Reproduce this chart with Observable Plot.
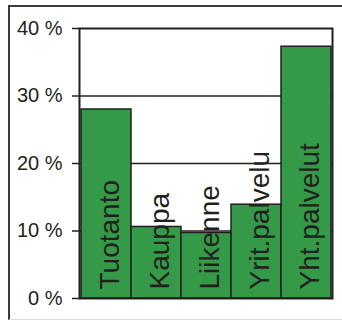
<!DOCTYPE html>
<html>
<head>
<meta charset="utf-8">
<script src="https://cdn.jsdelivr.net/npm/d3@7"></script>
<script src="https://cdn.jsdelivr.net/npm/@observablehq/plot@0.6"></script>
<style>
  html, body { margin: 0; padding: 0; background: white; }
  #wrap { position: relative; width: 342px; height: 320px; overflow: hidden; }
  #frame { position: absolute; left: 8px; top: 5px; width: 340px; height: 312px;
           border-top: 2px solid #3a3a3a; border-left: 2px solid #3a3a3a; border-bottom: 1px solid #dddddd;
           pointer-events: none; }
</style>
</head>
<body>
<div id="wrap"><div id="frame"></div></div>
<script>
const categories = ["Tuotanto", "Kauppa", "Liikenne", "Yrit.palvelu", "Yht.palvelut"];
const values = [28, 10.6, 9.7, 13.9, 37.3];
const yTicks = [0, 10, 20, 30, 40];
const gridTicks = [10, 20, 30];

const data = categories.map((c, i) => ({cat: c, value: values[i]}));
const ink = "#231f20";
const green = "#359a47";

const chart = Plot.plot({
  width: 342,
  height: 320,
  marginLeft: 79,
  marginRight: 10,
  marginTop: 28,
  marginBottom: 22,
  style: {background: "transparent", fontFamily: "'Liberation Sans', Arial, sans-serif", color: ink},
  x: {domain: categories, padding: 0, axis: null},
  y: {domain: [0, 40], ticks: yTicks, tickFormat: d => d + " %", label: null},
  marks: [
    Plot.gridY(gridTicks, {stroke: ink, strokeOpacity: 1, strokeWidth: 1.5}),
    Plot.barY(data, {x: "cat", y: "value", fill: green, stroke: ink, strokeWidth: 1.5, inset: 0}),
    Plot.frame({stroke: ink, strokeWidth: 2}),
    Plot.axisY({ticks: yTicks, tickFormat: d => d + " %", tickSize: 7, tickPadding: 10, fontSize: 20, stroke: ink, strokeWidth: 1.5, fill: ink, label: null}),
    Plot.text(data, {x: "cat", y: () => 0, text: "cat", rotate: -90, textAnchor: "start", fontSize: 28, dx: 4, dy: -9, fill: ink})
  ]
});
document.getElementById("wrap").prepend(chart);
</script>
</body>
</html>
